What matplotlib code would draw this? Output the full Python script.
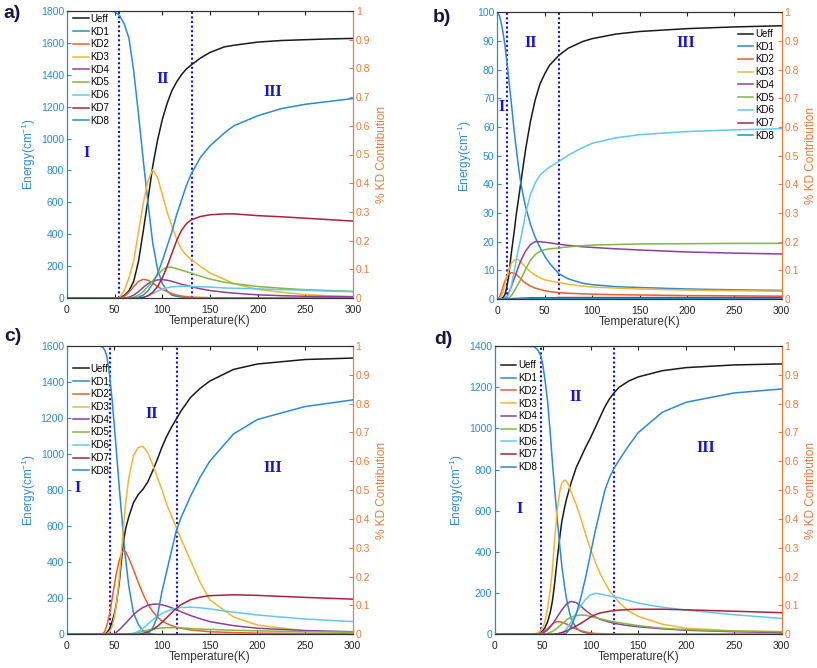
import matplotlib
matplotlib.use("Agg")
import matplotlib.pyplot as plt
from matplotlib.ticker import FuncFormatter

plt.rcParams['font.family'] = ['Liberation Sans', 'DejaVu Sans']
plt.rcParams['mathtext.fontset'] = 'custom'
plt.rcParams['mathtext.rm'] = 'Liberation Sans'
plt.rcParams['mathtext.it'] = 'Liberation Sans:italic'

# ---------------- panel a ----------------
T_A = [0, 45, 50, 55, 60, 65, 70, 75, 80, 85, 90, 95, 100, 105, 110, 115, 120, 125, 130, 140,
       150, 165, 175, 200, 225, 250, 275, 300]
UEFF_A = [0, 0, 0, 2, 15, 45, 105, 230, 420, 620, 830, 990, 1120, 1220, 1300, 1355, 1400, 1435,
          1460, 1505, 1540, 1575, 1585, 1605, 1615, 1620, 1625, 1628]
A_KD1 = [1, 1, 0.997, 0.985, 0.955, 0.905, 0.79, 0.64, 0.48, 0.33, 0.19, 0.1, 0.05, 0.025, 0.01,
         0.006, 0.003, 0.002, 0.001, 0, 0, 0, 0, 0, 0, 0, 0, 0]
A_KD2 = [0, 0, 0, 0, 0.005, 0.02, 0.04, 0.058, 0.065, 0.062, 0.052, 0.04, 0.03, 0.022, 0.015, 0.01,
         0.007, 0.005, 0.003, 0.002, 0.001, 0.001, 0, 0, 0, 0, 0, 0]
A_KD3 = [0, 0, 0, 0.002, 0.025, 0.07, 0.13, 0.23, 0.33, 0.41, 0.447, 0.42, 0.36, 0.30, 0.25, 0.205,
         0.17, 0.15, 0.135, 0.11, 0.087, 0.065, 0.05, 0.03, 0.02, 0.012, 0.008, 0.005]
A_KD4 = [0, 0, 0, 0, 0, 0.003, 0.01, 0.022, 0.037, 0.05, 0.058, 0.063, 0.064, 0.062, 0.058, 0.053,
         0.048, 0.044, 0.04, 0.032, 0.026, 0.02, 0.017, 0.011, 0.008, 0.006, 0.005, 0.004]
A_KD5 = [0, 0, 0, 0, 0, 0, 0.003, 0.01, 0.022, 0.04, 0.06, 0.08, 0.098, 0.108, 0.107, 0.102, 0.097,
         0.092, 0.087, 0.076, 0.066, 0.055, 0.05, 0.04, 0.034, 0.029, 0.026, 0.023]
A_KD6 = [0, 0, 0, 0, 0, 0, 0, 0, 0.002, 0.007, 0.015, 0.024, 0.031, 0.036, 0.039, 0.04, 0.041,
         0.041, 0.04, 0.039, 0.038, 0.035, 0.034, 0.032, 0.029, 0.027, 0.024, 0.022]
A_KD7 = [0, 0, 0, 0, 0, 0, 0, 0, 0.002, 0.008, 0.02, 0.04, 0.07, 0.11, 0.155, 0.2, 0.235, 0.258,
         0.272, 0.284, 0.29, 0.293, 0.293, 0.287, 0.283, 0.278, 0.273, 0.268]
A_KD8 = [0, 0, 0, 0, 0, 0, 0, 0.003, 0.01, 0.025, 0.05, 0.085, 0.13, 0.18, 0.23, 0.29, 0.34, 0.39,
         0.43, 0.49, 0.53, 0.575, 0.6, 0.635, 0.66, 0.675, 0.685, 0.695]

# ---------------- panel b ----------------
T_B = [0, 2, 4, 6, 8, 10, 12, 15, 18, 20, 22, 25, 28, 30, 35, 40, 45, 50, 55, 65, 75, 90, 100,
       125, 150, 200, 250, 300]
UEFF_B = [0, 0, 0.05, 0.5, 1.5, 4, 8, 16.5, 24, 29.5, 34, 41, 48, 52.5, 62, 69.5, 75, 78.5, 81.5,
          85, 87.5, 89.8, 90.8, 92.4, 93.3, 94.3, 94.9, 95.3]
B_KD1 = [1, 0.99, 0.965, 0.93, 0.886, 0.83, 0.77, 0.677, 0.58, 0.525, 0.47, 0.4, 0.35, 0.32, 0.26,
         0.215, 0.18, 0.15, 0.125, 0.088, 0.07, 0.055, 0.05, 0.043, 0.04, 0.035, 0.032, 0.03]
B_KD2 = [0, 0.005, 0.02, 0.042, 0.062, 0.078, 0.087, 0.092, 0.09, 0.086, 0.08, 0.07, 0.06, 0.055,
         0.045, 0.038, 0.033, 0.029, 0.026, 0.022, 0.02, 0.018, 0.017, 0.015, 0.014, 0.012, 0.011, 0.01]
B_KD3 = [0, 0.001, 0.008, 0.025, 0.05, 0.075, 0.1, 0.125, 0.136, 0.138, 0.137, 0.128, 0.118, 0.11,
         0.095, 0.083, 0.074, 0.067, 0.063, 0.057, 0.051, 0.045, 0.042, 0.038, 0.035, 0.031, 0.029, 0.027]
B_KD4 = [0, 0, 0, 0.001, 0.003, 0.008, 0.02, 0.045, 0.072, 0.09, 0.11, 0.135, 0.155, 0.168, 0.19,
         0.2, 0.2, 0.198, 0.196, 0.191, 0.187, 0.182, 0.18, 0.175, 0.171, 0.164, 0.16, 0.157]
B_KD5 = [0, 0, 0, 0, 0, 0, 0.003, 0.012, 0.028, 0.04, 0.052, 0.07, 0.09, 0.105, 0.135, 0.155, 0.166,
         0.172, 0.175, 0.178, 0.182, 0.186, 0.188, 0.19, 0.192, 0.193, 0.194, 0.194]
B_KD6 = [0, 0, 0, 0, 0, 0.005, 0.015, 0.05, 0.1, 0.135, 0.17, 0.215, 0.265, 0.3, 0.365, 0.405,
         0.432, 0.447, 0.46, 0.48, 0.502, 0.528, 0.543, 0.562, 0.573, 0.584, 0.59, 0.594]
B_KD7 = [0, 0, 0, 0, 0, 0, 0.001, 0.001, 0.002, 0.002, 0.002, 0.003, 0.003, 0.003, 0.004, 0.004,
         0.004, 0.004, 0.004, 0.005, 0.005, 0.005, 0.005, 0.005, 0.005, 0.005, 0.005, 0.005]
B_KD8 = [0, 0, 0, 0, 0, 0, 0, 0, 0, 0, 0, 0.001, 0.001, 0.001, 0.001, 0.001, 0.002, 0.002, 0.002,
         0.002, 0.002, 0.002, 0.002, 0.002, 0.002, 0.002, 0.002, 0.002]

# ---------------- panel c ----------------
T_C = [0, 35, 38, 40, 42, 45, 48, 50, 52, 55, 58, 60, 62, 65, 70, 75, 80, 85, 90, 95, 100, 105,
       110, 115, 120, 130, 140, 150, 175, 200, 250, 300]
UEFF_C = [0, 0, 0, 2, 8, 30, 75, 115, 165, 280, 440, 530, 590, 650, 730, 775, 805, 845, 905, 970,
          1040, 1100, 1150, 1195, 1240, 1315, 1365, 1405, 1470, 1500, 1525, 1533]
C_KD1 = [1, 1, 0.995, 0.985, 0.965, 0.9, 0.8, 0.72, 0.64, 0.515, 0.4, 0.32, 0.255, 0.17, 0.075,
         0.035, 0.012, 0.004, 0.001, 0, 0, 0, 0, 0, 0, 0, 0, 0, 0, 0, 0, 0]
C_KD2 = [0, 0, 0.003, 0.01, 0.03, 0.07, 0.13, 0.17, 0.21, 0.255, 0.285, 0.29, 0.285, 0.265, 0.225,
         0.18, 0.14, 0.105, 0.08, 0.06, 0.046, 0.037, 0.03, 0.025, 0.021, 0.015, 0.012, 0.009, 0.006,
         0.004, 0.003, 0.002]
C_KD3 = [0, 0, 0, 0, 0.002, 0.008, 0.03, 0.06, 0.1, 0.19, 0.31, 0.39, 0.46, 0.54, 0.62, 0.648,
         0.652, 0.63, 0.59, 0.545, 0.5, 0.45, 0.41, 0.37, 0.33, 0.255, 0.18, 0.12, 0.06, 0.032, 0.012,
         0.006]
C_KD4 = [0, 0, 0, 0, 0, 0, 0, 0.003, 0.007, 0.015, 0.025, 0.032, 0.039, 0.05, 0.068, 0.082, 0.093,
         0.1, 0.104, 0.105, 0.102, 0.098, 0.092, 0.085, 0.078, 0.065, 0.054, 0.044, 0.03, 0.021, 0.013,
         0.009]
C_KD5 = [0, 0, 0, 0, 0, 0, 0, 0, 0, 0, 0, 0, 0.001, 0.002, 0.003, 0.006, 0.01, 0.014, 0.018, 0.02,
         0.022, 0.023, 0.023, 0.023, 0.022, 0.02, 0.018, 0.017, 0.014, 0.012, 0.009, 0.008]
C_KD6 = [0, 0, 0, 0, 0, 0, 0, 0, 0, 0, 0, 0, 0, 0, 0.003, 0.01, 0.02, 0.035, 0.05, 0.062, 0.072,
         0.08, 0.086, 0.09, 0.093, 0.094, 0.092, 0.088, 0.077, 0.067, 0.053, 0.044]
C_KD7 = [0, 0, 0, 0, 0, 0, 0, 0, 0, 0, 0, 0, 0, 0, 0, 0, 0.003, 0.008, 0.016, 0.027, 0.042, 0.058,
         0.075, 0.09, 0.103, 0.12, 0.129, 0.134, 0.137, 0.135, 0.128, 0.122]
C_KD8 = [0, 0, 0, 0, 0, 0, 0, 0, 0, 0, 0, 0, 0, 0, 0, 0, 0, 0.003, 0.02, 0.06, 0.15, 0.22, 0.29,
         0.36, 0.405, 0.48, 0.545, 0.6, 0.695, 0.745, 0.79, 0.813]

# ---------------- panel d ----------------
T_D = [0, 40, 42, 45, 48, 50, 52, 55, 58, 60, 62, 65, 68, 70, 73, 75, 78, 80, 85, 90, 95, 100,
       105, 110, 115, 120, 125, 130, 140, 150, 175, 200, 250, 300]
UEFF_D = [0, 0, 0, 3, 10, 18, 30, 60, 110, 160, 230, 360, 480, 550, 620, 660, 710, 740, 810, 860,
          910, 955, 1005, 1055, 1105, 1145, 1175, 1200, 1230, 1250, 1280, 1295, 1308, 1313]
D_KD1 = [1, 0.998, 0.995, 0.985, 0.965, 0.935, 0.89, 0.81, 0.69, 0.6, 0.52, 0.405, 0.3, 0.235,
         0.16, 0.12, 0.075, 0.05, 0.022, 0.01, 0.005, 0.002, 0.001, 0, 0, 0, 0, 0, 0, 0, 0, 0, 0, 0]
D_KD2 = [0, 0, 0, 0.002, 0.005, 0.008, 0.012, 0.02, 0.029, 0.035, 0.04, 0.044, 0.043, 0.042, 0.038,
         0.035, 0.03, 0.026, 0.018, 0.012, 0.008, 0.005, 0.003, 0.002, 0.002, 0.001, 0.001, 0.001, 0,
         0, 0, 0, 0, 0]
D_KD3 = [0, 0, 0.002, 0.005, 0.015, 0.025, 0.04, 0.09, 0.16, 0.22, 0.31, 0.43, 0.5, 0.525, 0.535,
         0.53, 0.51, 0.49, 0.45, 0.4, 0.345, 0.295, 0.25, 0.21, 0.18, 0.15, 0.13, 0.11, 0.08, 0.062,
         0.035, 0.021, 0.012, 0.009]
D_KD4 = [0, 0, 0, 0.001, 0.002, 0.004, 0.008, 0.015, 0.026, 0.035, 0.044, 0.06, 0.075, 0.085, 0.098,
         0.105, 0.112, 0.114, 0.11, 0.097, 0.082, 0.07, 0.06, 0.052, 0.047, 0.042, 0.038, 0.035, 0.03,
         0.026, 0.019, 0.014, 0.009, 0.006]
D_KD5 = [0, 0, 0, 0, 0, 0, 0.001, 0.003, 0.007, 0.01, 0.014, 0.022, 0.03, 0.036, 0.044, 0.05,
         0.057, 0.06, 0.065, 0.067, 0.066, 0.062, 0.058, 0.054, 0.05, 0.046, 0.043, 0.04, 0.035, 0.03,
         0.021, 0.016, 0.011, 0.009]
D_KD6 = [0, 0, 0, 0, 0, 0, 0, 0, 0, 0, 0, 0.001, 0.003, 0.005, 0.012, 0.02, 0.033, 0.045, 0.075,
         0.1, 0.122, 0.137, 0.142, 0.14, 0.136, 0.133, 0.13, 0.126, 0.117, 0.108, 0.094, 0.084, 0.068,
         0.055]
D_KD7 = [0, 0, 0, 0, 0, 0, 0, 0, 0, 0, 0.001, 0.002, 0.004, 0.006, 0.009, 0.012, 0.017, 0.02, 0.029,
         0.038, 0.049, 0.06, 0.068, 0.074, 0.077, 0.08, 0.082, 0.084, 0.086, 0.087, 0.087, 0.085, 0.08,
         0.075]
D_KD8 = [0, 0, 0, 0, 0, 0, 0, 0, 0, 0, 0, 0, 0, 0, 0.002, 0.005, 0.018, 0.03, 0.07, 0.13, 0.2,
         0.28, 0.36, 0.43, 0.5, 0.545, 0.578, 0.605, 0.655, 0.7, 0.77, 0.805, 0.837, 0.851]

KD_LABELS = ['KD1', 'KD2', 'KD3', 'KD4', 'KD5', 'KD6', 'KD7', 'KD8']
KD_COLORS = ['#2a8ad6', '#e8602a', '#f2b630', '#8e3f9e', '#80b840', '#5fcaf0', '#b0203a', '#2a8ad6']
LEFT_COLOR = '#2a8ad6'
RIGHT_COLOR = '#ee7a3a'
ROMAN_COLOR = '#1414d2'

W, H = 817, 668
fig = plt.figure(figsize=(W / 100, H / 100), dpi=100)


def px_rect(left, top, right, bottom):
    return [left / W, 1 - bottom / H, (right - left) / W, (bottom - top) / H]


def draw_panel(rect, label, label_xy, T, ueff, kds, emax, estep, vlines, romans, leg_loc, leg_anchor):
    ax = fig.add_axes(rect)
    ax2 = ax.twinx()

    h_ueff, = ax.plot(T, ueff, color='#1a1a1a', lw=1.1, label='Ueff')
    handles = [h_ueff]
    for vals, lab, col in zip(kds, KD_LABELS, KD_COLORS):
        h, = ax2.plot(T, vals, color=col, lw=1.1, label=lab)
        handles.append(h)

    for xv in vlines:
        ax.axvline(xv, color='#1010e0', ls=(0, (1, 1.2)), lw=1.5, zorder=5)

    ax.set_xlim(0, 300)
    ax.set_ylim(0, emax)
    ax2.set_ylim(0, 1)
    ax.set_xticks(range(0, 301, 50))
    ax.set_yticks(range(0, emax + 1, estep))
    ax2.set_yticks([i / 10 for i in range(11)])
    ax2.yaxis.set_major_formatter(FuncFormatter(lambda v, p: '%g' % round(v, 1)))

    ax.tick_params(axis='x', direction='in', length=3, top=True, labelsize=7.5, colors='#222222',
                   pad=5)
    ax.tick_params(axis='y', direction='in', length=3, left=True, right=False, labelsize=7.5,
                   colors=LEFT_COLOR, pad=2)
    ax2.tick_params(axis='y', direction='in', length=3, left=False, right=True, labelsize=7.5,
                    colors=RIGHT_COLOR, pad=2)

    for a in (ax, ax2):
        a.spines['left'].set_color(LEFT_COLOR)
        a.spines['right'].set_color(RIGHT_COLOR)
        a.spines['top'].set_color('#333333')
        a.spines['bottom'].set_color('#333333')
        for s in a.spines.values():
            s.set_linewidth(0.8)

    ax.set_xlabel('Temperature(K)', fontsize=8.5, color='#333333', labelpad=0)
    ax.set_ylabel('Energy(cm$^{-1}$)', fontsize=8.5, color=LEFT_COLOR, labelpad=2)
    ax2.set_ylabel('% KD Contribution', fontsize=8.5, color=RIGHT_COLOR, labelpad=4)

    for txt, (xr, yr) in zip(['I', 'II', 'III'], romans):
        ax2.text(xr, yr, txt, transform=ax2.transAxes, ha='center', va='center',
                 fontsize=11.5, fontweight='bold', color=ROMAN_COLOR, family='Liberation Serif')

    ax2.legend(handles=handles, loc=leg_loc, bbox_to_anchor=leg_anchor, frameon=False, fontsize=7,
               handlelength=1.6, handletextpad=0.2, labelspacing=0.28, borderpad=0,
               borderaxespad=0)

    fig.text(label_xy[0] / W, 1 - label_xy[1] / H, label, fontsize=14, fontweight='bold',
             color='#161640', ha='center', va='center')


draw_panel(px_rect(67, 11, 353, 298), 'a)', (12, 13), T_A, UEFF_A,
           [A_KD1, A_KD2, A_KD3, A_KD4, A_KD5, A_KD6, A_KD7, A_KD8], 1800, 200,
           [55, 131], [(0.07, 0.505), (0.333, 0.763), (0.721, 0.719)],
           'upper left', (0.021, 0.99))
draw_panel(px_rect(497.3, 12.3, 781.7, 299), 'b)', (442, 17), T_B, UEFF_B,
           [B_KD1, B_KD2, B_KD3, B_KD4, B_KD5, B_KD6, B_KD7, B_KD8], 100, 10,
           [10, 65], [(0.015, 0.671), (0.117, 0.894), (0.663, 0.894)],
           'upper right', (0.973, 0.942))
draw_panel(px_rect(66.7, 346, 352.7, 634.3), 'c)', (13, 337), T_C, UEFF_C,
           [C_KD1, C_KD2, C_KD3, C_KD4, C_KD5, C_KD6, C_KD7, C_KD8], 1600, 200,
           [45.5, 115.4], [(0.037, 0.506), (0.297, 0.764), (0.722, 0.576)],
           'upper left', (0.022, 0.938))
draw_panel(px_rect(495, 346, 781.7, 634.3), 'd)', (443, 339), T_D, UEFF_D,
           [D_KD1, D_KD2, D_KD3, D_KD4, D_KD5, D_KD6, D_KD7, D_KD8], 1400, 200,
           [48.1, 124.5], [(0.085, 0.435), (0.283, 0.824), (0.736, 0.645)],
           'upper left', (0.02, 0.95))

fig.savefig('out.png', dpi=100, facecolor='white')
